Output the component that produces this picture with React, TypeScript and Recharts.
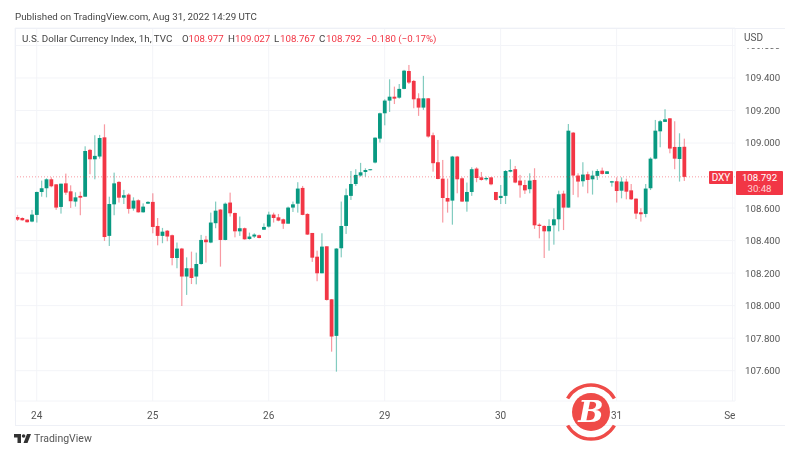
import { ComposedChart, Bar, XAxis, YAxis, CartesianGrid, ReferenceLine } from 'recharts';

const UP = '#089981';
const DOWN = '#f23645';
const FONT = 'Roboto, sans-serif';
const SLOT_COUNT = 149;

const opens = [
  108.545, 108.539, 108.529, 108.517, 108.558, 108.699, 108.722, 108.777, 108.746, 108.607,
  108.752, 108.703, 108.640, 108.675, 108.670, 108.958, 108.900, 108.917, 109.035, 108.429,
  108.623, 108.761, 108.664, 108.683, 108.597, 108.648, 108.574, 108.627, 108.638, 108.490,
  108.429, 108.461, 108.433, 108.293, 108.351, 108.179, 108.230, 108.179, 108.256, 108.406,
  108.388, 108.507, 108.591, 108.404, 108.634, 108.570, 108.457, 108.476, 108.410, 108.425,
  108.433, 108.467, 108.486, 108.560, 108.543, 108.531, 108.504, 108.603, 108.627, 108.724,
  108.564, 108.447, 108.301, 108.199, 108.365, 108.039, 107.814, 108.353, 108.490, 108.675,
  108.748, 108.800, 108.822, 108.834, 108.880, 109.027, 109.183, 109.261, 109.285, 109.279,
  109.333, 109.443, 109.382, 109.275, 109.218, 109.275, 109.048, 108.882, 108.781, 108.662,
  108.646, 108.917, 108.783, 108.640, 108.699, 108.843, 108.789, 108.777, 108.789, 108.699,
  108.662, 108.675, 108.824, 108.839, 108.769, 108.742, 108.716, 108.773, 108.498, 108.490,
  108.457, 108.494, 108.531, 108.689, 108.603, 109.064, 108.800, 108.765, 108.808, 108.777,
  108.798, 108.830, 108.810, 108.757, 108.765, 108.707, 108.763, 108.709, 108.658, 108.574,
  108.564, 108.722, 108.904, 109.072, 109.130, 109.152, 108.976, 108.902, 108.977,
];

const highs = [
  108.558, 108.543, 108.531, 108.589, 108.701, 108.769, 108.783, 108.789, 108.748, 108.750,
  108.812, 108.740, 108.697, 108.701, 108.980, 108.964, 109.048, 109.050, 109.115, 108.670,
  108.818, 108.765, 108.712, 108.691, 108.666, 108.654, 108.629, 108.642, 108.691, 108.539,
  108.478, 108.465, 108.437, 108.388, 108.355, 108.297, 108.332, 108.326, 108.435, 108.429,
  108.572, 108.640, 108.593, 108.634, 108.695, 108.572, 108.548, 108.480, 108.449, 108.445,
  108.437, 108.506, 108.578, 108.572, 108.564, 108.535, 108.609, 108.640, 108.759, 108.736,
  108.568, 108.447, 108.338, 108.445, 108.365, 108.041, 108.353, 108.640, 108.720, 108.828,
  108.839, 108.878, 108.845, 108.839, 109.035, 109.187, 109.269, 109.392, 109.347, 109.363,
  109.450, 109.480, 109.388, 109.306, 109.413, 109.277, 109.064, 109.019, 108.896, 108.781,
  108.921, 108.921, 108.789, 108.757, 108.851, 108.851, 108.822, 108.793, 108.789, 108.699,
  108.742, 108.834, 108.900, 108.859, 108.804, 108.773, 108.814, 108.845, 108.506, 108.494,
  108.531, 108.599, 108.707, 108.707, 109.117, 109.068, 108.814, 108.882, 108.824, 108.830,
  108.839, 108.849, 108.828, 108.767, 108.789, 108.789, 108.781, 108.748, 108.660, 108.599,
  108.748, 108.912, 109.142, 109.142, 109.208, 109.154, 109.134, 109.060, 109.027,
];

const lows = [
  108.521, 108.523, 108.511, 108.513, 108.511, 108.670, 108.666, 108.728, 108.589, 108.566,
  108.681, 108.601, 108.609, 108.556, 108.670, 108.808, 108.777, 108.904, 108.398, 108.367,
  108.556, 108.634, 108.625, 108.566, 108.584, 108.572, 108.572, 108.625, 108.445, 108.371,
  108.384, 108.396, 108.248, 108.230, 107.998, 108.066, 108.133, 108.131, 108.252, 108.265,
  108.384, 108.476, 108.240, 108.402, 108.548, 108.420, 108.429, 108.406, 108.406, 108.416,
  108.414, 108.465, 108.480, 108.511, 108.519, 108.472, 108.504, 108.576, 108.572, 108.556,
  108.435, 108.269, 108.150, 108.199, 108.031, 107.717, 107.594, 108.297, 108.441, 108.650,
  108.736, 108.793, 108.793, 108.832, 108.875, 109.003, 109.109, 109.191, 109.240, 109.273,
  109.331, 109.363, 109.214, 109.167, 109.204, 109.033, 108.824, 108.777, 108.511, 108.572,
  108.498, 108.691, 108.638, 108.578, 108.675, 108.759, 108.769, 108.769, 108.740, 108.646,
  108.625, 108.625, 108.820, 108.753, 108.664, 108.687, 108.691, 108.472, 108.414, 108.293,
  108.338, 108.375, 108.457, 108.465, 108.603, 108.681, 108.666, 108.732, 108.691, 108.683,
  108.773, 108.806, 108.810, 108.732, 108.634, 108.660, 108.654, 108.650, 108.533, 108.517,
  108.543, 108.711, 108.900, 108.974, 109.130, 108.937, 108.839, 108.763, 108.767,
];

const closes = [
  108.529, 108.525, 108.513, 108.560, 108.699, 108.722, 108.777, 108.734, 108.603, 108.750,
  108.695, 108.642, 108.666, 108.664, 108.951, 108.900, 108.921, 109.031, 108.422, 108.625,
  108.752, 108.664, 108.679, 108.595, 108.646, 108.574, 108.609, 108.638, 108.484, 108.429,
  108.455, 108.425, 108.293, 108.351, 108.179, 108.230, 108.170, 108.256, 108.404, 108.390,
  108.511, 108.584, 108.404, 108.627, 108.568, 108.457, 108.476, 108.408, 108.425, 108.437,
  108.416, 108.484, 108.560, 108.539, 108.523, 108.504, 108.603, 108.623, 108.720, 108.558,
  108.437, 108.295, 108.199, 108.363, 108.035, 107.810, 108.351, 108.490, 108.679, 108.748,
  108.804, 108.820, 108.834, 108.839, 109.033, 109.183, 109.261, 109.285, 109.273, 109.333,
  109.445, 109.372, 109.269, 109.218, 109.275, 109.040, 108.876, 108.779, 108.662, 108.640,
  108.917, 108.777, 108.640, 108.699, 108.839, 108.785, 108.773, 108.785, 108.746, 108.650,
  108.675, 108.828, 108.834, 108.757, 108.740, 108.709, 108.769, 108.494, 108.490, 108.457,
  108.490, 108.531, 108.685, 108.603, 109.076, 108.800, 108.763, 108.806, 108.773, 108.800,
  108.828, 108.810, 108.826, 108.765, 108.705, 108.763, 108.701, 108.654, 108.566, 108.562,
  108.720, 108.904, 109.076, 109.134, 109.146, 108.966, 108.904, 108.976, 108.792,
];

const dayTicks = [4, 28, 52, 76, 100, 124, 148];
const dayLabels = ['24', '25', '26', '29', '30', '31', 'Sep'];
// 108.800 sits behind the last-price tag in the reference, so it has no label here
const priceTicks = [107.6, 107.8, 108, 108.2, 108.4, 108.6, 109, 109.2, 109.4, 109.6];
const lastPrice = 108.792;

const rows = Array.from({ length: SLOT_COUNT }, (_, slot) => ({
  slot,
  open: opens[slot],
  high: highs[slot],
  low: lows[slot],
  close: closes[slot],
}));

// wick + body drawn from the high/low bar the library has already scaled
function Candle(props: any) {
  const { x, y, width, height, payload } = props;
  if (payload.open === undefined) return null;
  const top = Math.min(y, y + height);
  const h = Math.abs(height);
  const perUnit = h / (payload.high - payload.low);
  const cx = x + width / 2;
  const color = payload.close >= payload.open ? UP : DOWN;
  const bodyTop = top + (payload.high - Math.max(payload.open, payload.close)) * perUnit;
  const bodyH = Math.abs(payload.close - payload.open) * perUnit;
  return (
    <g>
      <rect x={cx - 0.6} y={top} width={1.2} height={h} fill={color} fillOpacity={0.5} />
      <rect x={cx - 1.9} y={bodyTop} width={3.8} height={Math.max(bodyH, 1)} fill={color} />
    </g>
  );
}

const abs = (left: number, top: number, extra: any = {}) => ({
  position: 'absolute' as const,
  left,
  top,
  lineHeight: '14px',
  whiteSpace: 'nowrap' as const,
  ...extra,
});

function Legend() {
  const parts: [number, string, string][] = [
    [182, 'O', '#444'], [188.5, '108.977', DOWN],
    [228, 'H', '#444'], [235, '109.027', DOWN],
    [274, 'L', '#444'], [280, '108.767', DOWN],
    [319, 'C', '#444'], [326, '108.792', DOWN],
    [366, '−0.180 (−0.17%)', DOWN],
  ];
  return (
    <>
      <div style={abs(22, 32, { color: '#444', fontSize: 9.8 })}>U.S. Dollar Currency Index, 1h, TVC</div>
      {parts.map(([left, text, color]) => (
        <div key={left} style={abs(left, 32, { color, fontSize: 9.7 })}>{text}</div>
      ))}
    </>
  );
}

function BitcoinBadge() {
  return (
    <svg width={64} height={64} style={{ position: 'absolute', left: 559, top: 380 }}>
      <circle cx={32} cy={32} r={19} fill="#ef4b48" />
      <path d="M 8.6 18.5 A 27 27 0 0 1 55.4 18.5" fill="none" stroke="#ef4b48" strokeWidth={3.5} />
      <path d="M 8.6 45.5 A 27 27 0 0 0 55.4 45.5" fill="none" stroke="#ef4b48" strokeWidth={3.5} />
      <text x={32} y={42} textAnchor="middle" fill="#fff" fontSize={30} fontWeight={700} fontStyle="italic" fontFamily='"DejaVu Serif", serif'>B</text>
    </svg>
  );
}

export default function App() {
  return (
    <div style={{ position: 'fixed', left: 0, top: 0, width: 785, height: 452, background: '#fff', fontFamily: FONT, overflow: 'hidden' }}>
      <div style={{ position: 'absolute', inset: 0, filter: 'blur(0.55px)' }}>
        <ComposedChart
          width={785}
          height={452}
          data={rows}
          barCategoryGap={0}
          margin={{ top: 28, right: 0, bottom: 27, left: 15 }}
        >
          <CartesianGrid stroke="#f3f4f8" />
          <XAxis
            dataKey="slot"
            type="category"
            interval={0}
            ticks={dayTicks}
            tickFormatter={(s: number) => dayLabels[dayTicks.indexOf(s)]}
            height={24}
            axisLine={false}
            tickLine={false}
            tickMargin={5}
            tick={{ fill: '#555', fontSize: 10, fontFamily: FONT }}
          />
          <YAxis
            orientation="right"
            width={50}
            domain={[107.4135, 109.7075]}
            ticks={priceTicks}
            tickFormatter={(v: number) => v.toFixed(3)}
            axisLine={false}
            tickLine={false}
            tickMargin={4}
            tick={{ fill: '#555', fontSize: 9.7, fontFamily: FONT, textAnchor: 'start' }}
          />
          <ReferenceLine y={lastPrice} stroke={DOWN} strokeOpacity={0.5} strokeDasharray="1 2" />
          <Bar dataKey={(r: any) => (r.open === undefined ? undefined : [r.low, r.high])} shape={Candle} isAnimationActive={false} />
        </ComposedChart>

        {/* panel edges */}
        <div style={{ position: 'absolute', left: 15, top: 28, width: 770, height: 1, background: '#eef0f6' }} />
        <div style={{ position: 'absolute', left: 15, top: 425, width: 770, height: 1, background: '#eef0f6' }} />
        <div style={{ position: 'absolute', left: 15, top: 28, width: 1, height: 397, background: '#eef0f6' }} />

        {/* axis strip covers */}
        <div style={{ position: 'absolute', left: 736, top: 29, width: 49, height: 18.5, background: '#fff' }} />
        <div style={{ position: 'absolute', left: 735, top: 402, width: 50, height: 23, background: '#fff' }} />

        <div style={abs(15, 10, { color: '#444', fontSize: 9.75 })}>Published on TradingView.com, Aug 31, 2022 14:29 UTC</div>
        <Legend />
        <div style={abs(744, 31, { color: '#555', fontSize: 10 })}>USD</div>

        {/* last price tags */}
        <div style={abs(709, 171, { width: 24, height: 13, lineHeight: '13px', background: DOWN, color: '#fff', fontSize: 10, textAlign: 'center', borderRadius: 1 })}>DXY</div>
        <div style={abs(736, 171, { width: 47, height: 24, background: DOWN, borderRadius: 1 })} />
        <div style={abs(736, 172, { width: 47, lineHeight: '11px', color: '#fff', fontSize: 9.7, textAlign: 'center' })}>108.792</div>
        <div style={abs(736, 183, { width: 47, lineHeight: '11px', color: '#ffd0d4', fontSize: 9.7, textAlign: 'center' })}>30:48</div>

        {/* TradingView footer mark */}
        <svg width={18} height={10} style={{ position: 'absolute', left: 14, top: 434 }}>
          <path d="M0 0 H7 V9 H3.5 V3.4 H0 Z M17 0 L13.5 9 H9.5 L13 0 Z" fill="#333" />
          <circle cx={9.6} cy={2} r={1.8} fill="#333" />
        </svg>
        <div style={abs(34, 432, { color: '#555', fontSize: 10.5 })}>TradingView</div>

        <BitcoinBadge />
      </div>
    </div>
  );
}
